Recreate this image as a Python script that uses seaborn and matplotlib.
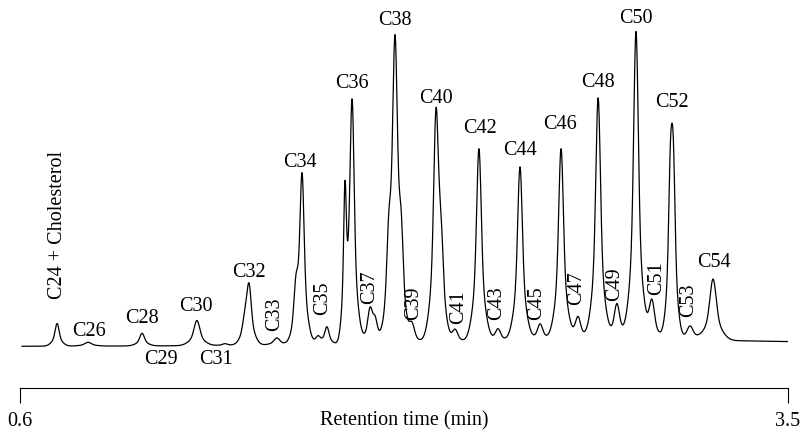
import numpy as np
import pandas as pd
import matplotlib
matplotlib.use('Agg')
import matplotlib.pyplot as plt
import seaborn as sns

# peak table (retention time in min, relative height, core width in min)
peak_times = [0.740, 0.857, 1.061, 1.268, 1.374, 1.450, 1.465, 1.570, 1.642, 1.665,
              1.725, 1.759, 1.827, 1.854, 1.922, 1.941, 1.993, 2.016, 2.039, 2.080,
              2.171, 2.190, 2.243, 2.333, 2.405, 2.488, 2.564, 2.643, 2.707, 2.783,
              2.854, 2.926, 2.986, 3.056, 3.067, 3.130, 3.217, 3.000]
peak_heights = [7.2, 1.2, 4.0, 8.0, 0.6, 6.0, 17.5, 2.3, 14.0, 52.5,
                2.5, 5.5, 43.0, 77.0, 10.5, 6.0, 24.0, 90.5, 24.0, 6.0,
                70.0, 22.0, 4.2, 61.5, 4.2, 55.5, 5.5, 61.0, 7.5, 77.0,
                11.5, 97.8, 12.5, 44.5, 46.5, 4.5, 19.5, 2.2]
peak_widths = [0.0070, 0.0110, 0.0080, 0.0100, 0.0080, 0.0080, 0.0075, 0.0100, 0.0070, 0.0070,
               0.0080, 0.0070, 0.0045, 0.0070, 0.0080, 0.0070, 0.0070, 0.0080, 0.0070, 0.0090,
               0.0080, 0.0070, 0.0090, 0.0080, 0.0090, 0.0080, 0.0090, 0.0080, 0.0090, 0.0080,
               0.0090, 0.0080, 0.0090, 0.0060, 0.0060, 0.0100, 0.0110, 0.6000]

# peak labels: horizontal ones above peaks, vertical ones beside the minor peaks
label_text = ['C26', 'C28', 'C30', 'C32', 'C34', 'C36', 'C38', 'C40', 'C42', 'C44',
              'C46', 'C48', 'C50', 'C52', 'C54', 'C29', 'C31']
label_time = [0.861, 1.061, 1.265, 1.465, 1.657, 1.854, 2.016, 2.171, 2.336, 2.488,
              2.639, 2.783, 2.926, 3.062, 3.221, 1.133, 1.341]
label_level = [4.8, 9.2, 13.0, 23.8, 58.7, 83.8, 103.8, 79.0, 69.5, 62.5,
               70.8, 84.1, 104.4, 77.5, 27.0, -3.8, -3.8]

vlabel_text = ['C24 + Cholesterol', 'C33', 'C35', 'C37', 'C39', 'C41', 'C43', 'C45',
               'C47', 'C49', 'C51', 'C53']
vlabel_time = [0.740, 1.563, 1.744, 1.922, 2.088, 2.258, 2.401, 2.552, 2.703, 2.847, 3.005, 3.126]
vlabel_level = [38.7, 10.5, 15.6, 19.0, 14.0, 12.7, 14.0, 14.0, 18.7, 20.0, 21.9, 14.9]

# build the trace from the peak table
t = np.linspace(0.607, 3.5, 3000)
signal = np.zeros_like(t)
for t0, h, w in zip(peak_times, peak_heights, peak_widths):
    core = np.exp(-0.5 * ((t - t0) / w) ** 2)
    base = np.exp(-0.5 * ((t - t0) / (2.6 * w)) ** 2)
    signal += h * (0.65 * core + 0.35 * base)
df = pd.DataFrame({'time': t, 'signal': signal})

sns.set_style('white')
plt.rcParams['font.family'] = ['Liberation Serif', 'DejaVu Serif']
plt.rcParams['text.color'] = 'black'

fig = plt.figure(figsize=(8.03, 4.32), dpi=100)
ax = fig.add_axes([20 / 803, 1 - 388 / 432, 768 / 803, 388 / 432])
sns.lineplot(data=df, x='time', y='signal', ax=ax, color='black', linewidth=0.9)

ax.set_xlim(0.6, 3.5)
ax.set_ylim(-13.0, 110.2)

fs = 14.5
for txt, x, y in zip(label_text, label_time, label_level):
    ax.text(x, y, txt, ha='center', va='center', fontsize=fs, color='black')
for txt, x, y in zip(vlabel_text, vlabel_time, vlabel_level):
    ax.text(x, y, txt, ha='center', va='center', fontsize=fs, rotation=90, color='black')

for side in ['top', 'right', 'left']:
    ax.spines[side].set_visible(False)
ax.spines['bottom'].set_linewidth(0.8)
ax.spines['bottom'].set_color('black')
ax.set_yticks([])
ax.set_xticks([0.6, 3.5])
ax.set_xticklabels(['0.6', '3.5'])
ax.tick_params(axis='x', direction='out', length=11, width=0.8, colors='black',
               labelsize=fs, pad=6, bottom=True)
ax.set_xlabel('Retention time (min)', fontsize=fs, color='black')
ax.set_ylabel('')
ax.xaxis.set_label_coords(0.5, -0.084)
ax.xaxis.label.set_va('center')

fig.savefig('out.png', dpi=100)
